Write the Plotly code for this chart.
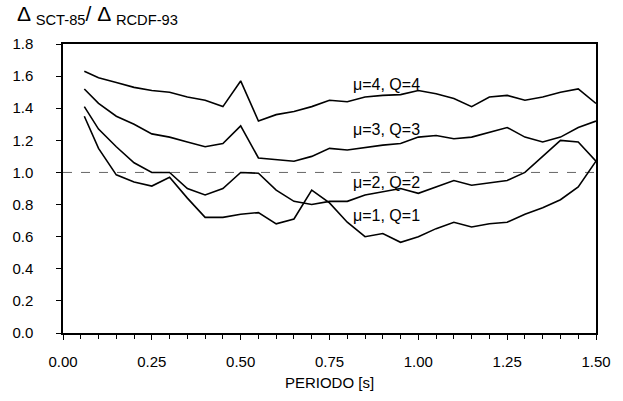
import plotly.graph_objects as go

periodo = [0.06, 0.10, 0.15, 0.20, 0.25, 0.30, 0.35, 0.40, 0.45, 0.50,
           0.55, 0.60, 0.65, 0.70, 0.75, 0.80, 0.85, 0.90, 0.95, 1.00,
           1.05, 1.10, 1.15, 1.20, 1.25, 1.30, 1.35, 1.40, 1.45, 1.50]

mu4 = [1.63, 1.59, 1.56, 1.53, 1.51, 1.50, 1.47, 1.45, 1.41, 1.57,
       1.32, 1.36, 1.38, 1.41, 1.45, 1.44, 1.47, 1.48, 1.485, 1.51,
       1.49, 1.46, 1.41, 1.47, 1.48, 1.45, 1.47, 1.50, 1.52, 1.43]
mu3 = [1.52, 1.43, 1.35, 1.30, 1.24, 1.22, 1.19, 1.16, 1.18, 1.29,
       1.09, 1.08, 1.07, 1.10, 1.15, 1.14, 1.155, 1.17, 1.18, 1.22,
       1.23, 1.21, 1.22, 1.25, 1.28, 1.22, 1.19, 1.22, 1.28, 1.32]
mu2 = [1.41, 1.27, 1.16, 1.06, 1.00, 1.00, 0.90, 0.86, 0.90, 1.00,
       0.995, 0.89, 0.82, 0.80, 0.82, 0.82, 0.86, 0.88, 0.90, 0.87,
       0.91, 0.95, 0.92, 0.935, 0.95, 1.00, 1.10, 1.20, 1.19, 1.07]
mu1 = [1.35, 1.15, 0.985, 0.94, 0.915, 0.97, 0.84, 0.72, 0.72, 0.74,
       0.75, 0.68, 0.71, 0.89, 0.81, 0.69, 0.60, 0.62, 0.565, 0.60,
       0.65, 0.69, 0.66, 0.68, 0.69, 0.74, 0.78, 0.83, 0.91, 1.07]

series = [mu4, mu3, mu2, mu1]
labels = ["\u03bc=4, Q=4", "\u03bc=3, Q=3", "\u03bc=2, Q=2", "\u03bc=1, Q=1"]
label_x = [0.81, 0.81, 0.81, 0.81]
label_y = [1.55, 1.265, 0.94, 0.73]
ref_x = [0.0, 1.5]
ref_y = [1.0, 1.0]

FONT = "Liberation Sans, Arial, sans-serif"

fig = go.Figure()
fig.add_trace(go.Scatter(x=ref_x, y=ref_y, mode="lines",
                         line=dict(color="#666", width=1, dash="dash"),
                         showlegend=False, hoverinfo="skip"))
for s in series:
    fig.add_trace(go.Scatter(x=periodo, y=s, mode="lines",
                             line=dict(color="black", width=1.6),
                             showlegend=False))

for t, lx, ly in zip(labels, label_x, label_y):
    fig.add_annotation(x=lx, y=ly, text=t, showarrow=False, xanchor="left",
                       yanchor="middle", font=dict(family=FONT, size=16, color="black"))

fig.add_annotation(xref="paper", yref="paper", x=-0.09, y=1.10,
                   xanchor="left", yanchor="middle", showarrow=False,
                   text="\u0394 <sub>SCT-85</sub>/ \u0394 <sub>RCDF-93</sub>",
                   font=dict(family=FONT, size=21, color="black"))

fig.update_layout(
    width=623, height=401,
    margin=dict(l=60, r=18, t=44, b=64),
    paper_bgcolor="white", plot_bgcolor="white",
    font=dict(family=FONT, size=15, color="black"),
)
fig.update_xaxes(range=[0, 1.5], dtick=0.25, tick0=0, tickformat=".2f",
                 showgrid=False, zeroline=False, showline=True, mirror=True,
                 linecolor="black", linewidth=1.5, ticks="outside", ticklen=5,
                 tickcolor="black", tickwidth=1,
                 minor=dict(dtick=0.05, ticks="outside", ticklen=4, tickcolor="black", tickwidth=1),
                 title=dict(text="PERIODO [s]", font=dict(size=15), standoff=9),
                 ticklabelstandoff=9)
fig.update_yaxes(range=[0, 1.8], dtick=0.2, tick0=0, tickformat=".1f",
                 showgrid=False, zeroline=False, showline=True, mirror=True,
                 linecolor="black", linewidth=1.5, ticks="outside", ticklen=5,
                 tickcolor="black", tickwidth=1, ticklabelstandoff=20)

fig.write_html("out.html")
